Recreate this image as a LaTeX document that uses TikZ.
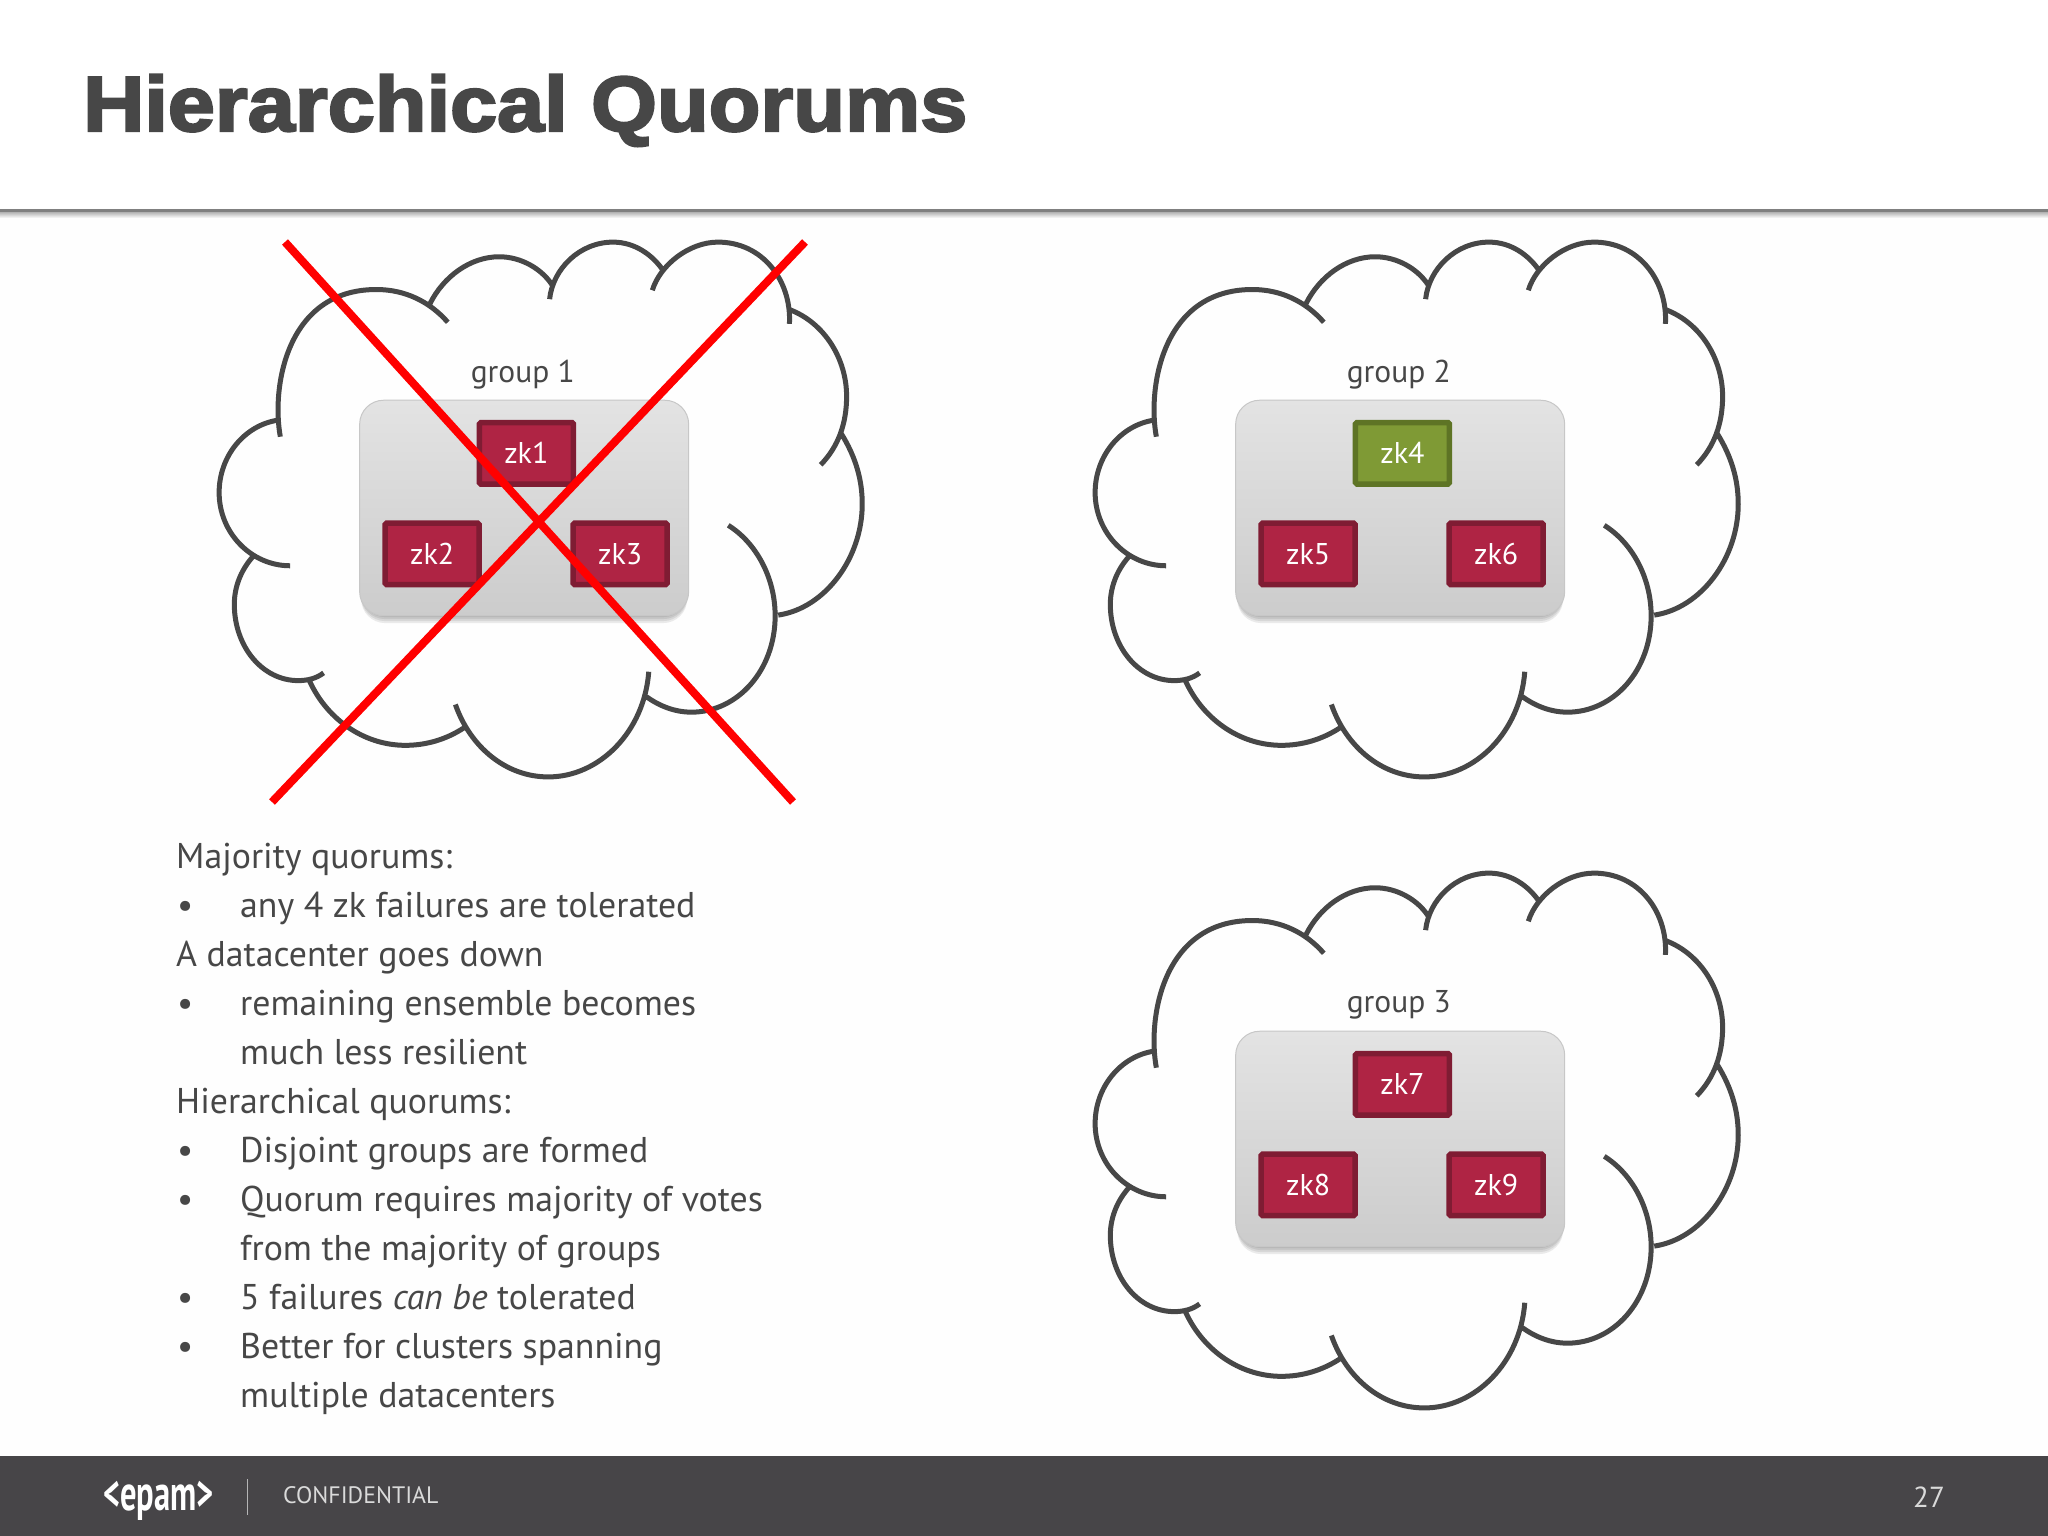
\documentclass[tikz,border=0pt]{standalone}
\usepackage{fontspec}
\setmainfont{PT Sans}
\newfontfamily\titlefont[FakeStretch=1.085,FakeBold=3]{Liberation Sans Bold}
\definecolor{ink}{HTML}{474747}
\definecolor{bar}{HTML}{474548}
\definecolor{zkred}{HTML}{AF2444}
\definecolor{zkredd}{HTML}{7F1C33}
\definecolor{zkgreen}{HTML}{7F9A35}
\definecolor{zkgreend}{HTML}{5E7425}
\tikzset{
  cloudline/.style={draw=ink,line width=5pt,line cap=butt},
  groupbox/.style={draw=black!22,line width=1pt,rounded corners=24pt,top color=white!89!black,bottom color=white!80!black,minimum width=329pt,minimum height=215.5pt},
  boxshadow/.style={fill=black,opacity=.08,rounded corners=24pt},
  zkbox/.style={draw=zkredd,fill=zkred,line width=5.5pt,rounded corners=1.5pt,minimum width=94pt,minimum height=61.5pt,text=white,font=\fontsize{30}{30}\selectfont,inner sep=0pt},
  zkok/.style={zkbox,draw=zkgreend,fill=zkgreen},
  grouplabel/.style={text=ink,font=\fontsize{31.5}{31.5}\selectfont,inner sep=0pt},
  bodytext/.style={anchor=base west,text=ink,font=\fontsize{35.8}{35.8}\selectfont,inner sep=0pt},
  redx/.style={draw=red,line width=8pt},
}
\newcommand{\cloudgroup}[7]{%
\begin{scope}[shift={(#1,#2)},x=.4466pt,y=-.3853pt]
\draw[cloudline]
 (200,565) .. controls (180,440) and (212,183) .. (415,183) .. controls (480,183) and (535,215) .. (575,268)
 (535,220) .. controls (565,150) and (625,98) .. (690,98) .. controls (740,98) and (785,130) .. (808,170)
 (803,208) .. controls (810,130) and (870,60) .. (945,60) .. controls (995,60) and (1035,95) .. (1058,135)
 (1033,185) .. controls (1050,120) and (1115,60) .. (1180,60) .. controls (1280,60) and (1345,160) .. (1340,272)
 (1340,235) .. controls (1420,270) and (1468,365) .. (1468,460) .. controls (1468,530) and (1450,590) .. (1410,638)
 (1455,555) .. controls (1490,620) and (1503,680) .. (1503,740) .. controls (1503,880) and (1420,1010) .. (1315,1028)
 (1203,795) .. controls (1265,840) and (1308,930) .. (1308,1030) .. controls (1308,1170) and (1225,1280) .. (1120,1280) .. controls (1085,1280) and (1050,1265) .. (1020,1240)
 (1025,1175) .. controls (1015,1330) and (915,1448) .. (800,1448) .. controls (705,1448) and (625,1370) .. (592,1260)
 (612,1320) .. controls (570,1352) and (525,1366) .. (480,1366) .. controls (385,1366) and (300,1295) .. (262,1190)
 (297,1178) .. controls (280,1193) and (260,1198) .. (240,1198) .. controls (160,1198) and (97,1110) .. (97,1000) .. controls (97,950) and (115,905) .. (142,872)
 (222,900) .. controls (135,900) and (63,815) .. (63,710) .. controls (63,615) and (120,535) .. (195,522);
\coordinate (sh#3a) at (381,700);
\coordinate (sh#3b) at (1111,1028);
\foreach \d in {2,4,6,8} \fill[boxshadow] (sh#3a) rectangle ([yshift=-\d pt]sh#3b);
\node[groupbox] (box#3) at (746,750) {};
\node[grouplabel] (lab#3) at (743,403) {group #3};
\node[#4] (zk#5) at (751,608) {zk#5};
\node[zkbox] (zk#6) at (540,869) {zk#6};
\node[zkbox] (zk#7) at (961,869) {zk#7};
\end{scope}}
\begin{document}
\begin{tikzpicture}[x=1pt,y=-1pt]
\useasboundingbox (0,0) rectangle (2048,1536);
\fill[white!99.6!black] (0,0) rectangle (2048,1536);
\fill[white] (0,0) rectangle (2048,208);
\shade[top color=black!40,bottom color=white!99.6!black] (0,210) rectangle (2048,218);
\draw[draw=black!50,line width=3pt] (0,210) -- (2048,210);
\node[anchor=base west,inner sep=0pt,text=ink,font=\titlefont\fontsize{78}{78}\selectfont] (title) at (83,131) {Hierarchical Quorums};
\cloudgroup{191}{219}{1}{zkbox}{1}{2}{3}
\cloudgroup{1067}{219}{2}{zkok}{4}{5}{6}
\cloudgroup{1067}{850}{3}{zkbox}{7}{8}{9}
\coordinate (xa) at (285,242);
\coordinate (xb) at (793,802);
\coordinate (xc) at (805,242);
\coordinate (xd) at (272,802);
\draw[redx] (xa) -- (xb);
\draw[redx] (xc) -- (xd);
\node[bodytext] (t1) at (176,868) {Majority quorums:};
\node[bodytext] (b2) at (177,917) {•};
\node[bodytext] (t2) at (240,917) {any 4 zk failures are tolerated};
\node[bodytext] (t3) at (176,966) {A datacenter goes down};
\node[bodytext] (b4) at (177,1015) {•};
\node[bodytext] (t4) at (240,1015) {remaining ensemble becomes};
\node[bodytext] (t5) at (240,1064) {much less resilient};
\node[bodytext] (t6) at (176,1113) {Hierarchical quorums:};
\node[bodytext] (b7) at (177,1162) {•};
\node[bodytext] (t7) at (240,1162) {Disjoint groups are formed};
\node[bodytext] (b8) at (177,1211) {•};
\node[bodytext] (t8) at (240,1211) {Quorum requires majority of votes};
\node[bodytext] (t9) at (240,1260) {from the majority of groups};
\node[bodytext] (b10) at (177,1309) {•};
\node[bodytext] (t10) at (240,1309) {5 failures \textit{can be} tolerated};
\node[bodytext] (b11) at (177,1358) {•};
\node[bodytext] (t11) at (240,1358) {Better for clusters spanning};
\node[bodytext] (t12) at (240,1407) {multiple datacenters};
\fill[bar] (0,1456) rectangle (2048,1536);
\node[anchor=base west,inner sep=0pt,text=white,xscale=.65,font=\bfseries\fontsize{50}{50}\selectfont] (logo) at (103,1510) {<epam>};
\draw[white!60!bar,line width=1pt] (247,1479) -- (247,1515);
\node[anchor=base west,inner sep=0pt,text=white!80!bar,font=\fontsize{23.8}{23.8}\selectfont] (conf) at (283,1503) {CONFIDENTIAL};
\node[anchor=base,inner sep=0pt,text=white!80!bar,font=\fontsize{29}{29}\selectfont] (pg) at (1929,1507) {27};
\end{tikzpicture}
\end{document}
